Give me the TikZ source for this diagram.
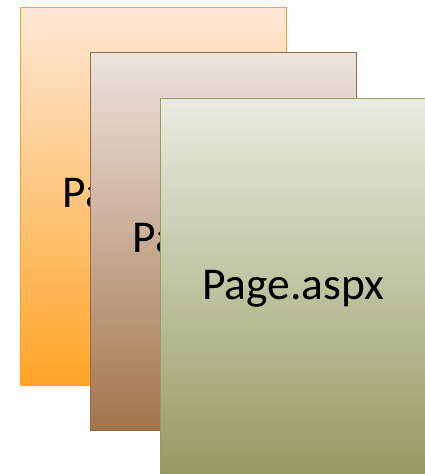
\documentclass[tikz,border=0pt]{standalone}
\usepackage{fontspec}
\setmainfont{Carlito}
\usepackage{tikz}
\usetikzlibrary{positioning}

\definecolor{orangetop}{HTML}{FDE8D6}
\definecolor{orangebot}{HTML}{FFA526}
\definecolor{orangeline}{HTML}{F9A233}
\definecolor{browntop}{HTML}{EDE3DF}
\definecolor{brownbot}{HTML}{A3744A}
\definecolor{brownline}{HTML}{976B45}
\definecolor{olivetop}{HTML}{E9ECE0}
\definecolor{olivebot}{HTML}{939A5F}
\definecolor{oliveline}{HTML}{969D68}

\tikzset{
  page/.style={anchor=north west, minimum width=266pt, minimum height=378pt,
    line width=1.3pt, inner sep=0pt, shading angle=8,
    font=\fontsize{45.5}{48}\selectfont},
}

\begin{document}
\begin{tikzpicture}
					\useasboundingbox (0pt,0pt) rectangle (425pt,-474pt);

					\node[page, draw=orangeline, top color=orangetop, bottom color=orangebot] (pageA) at (20pt,-7pt) {Page.aspx};
					\node[page, draw=brownline, top color=browntop, bottom color=brownbot] (pageB) at (90pt,-52pt) {Page.aspx};
					\node[page, draw=oliveline, top color=olivetop, bottom color=olivebot, minimum width=265pt, minimum height=380pt] (pageC) at (160pt,-98pt) {Page.aspx};

				\end{tikzpicture}
\end{document}
